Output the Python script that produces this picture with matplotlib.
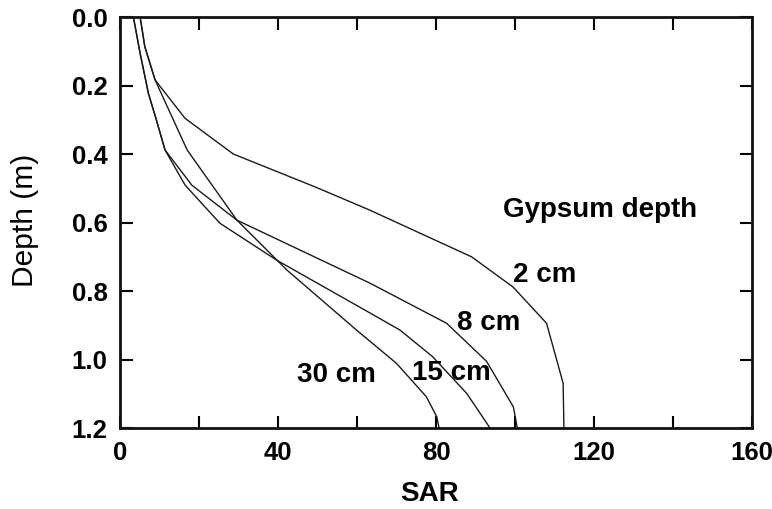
import matplotlib
matplotlib.use("Agg")
import matplotlib.pyplot as plt

plt.rcParams['font.family'] = ['Liberation Sans', 'DejaVu Sans']

# SAR vs depth profiles for each gypsum depth
sar_2cm = [5.1, 6.3, 8.9, 16.5, 28.7, 49.4, 63.3, 89.0, 99.5, 108.0, 112.2, 112.4]
dep_2cm = [0.0, 0.087, 0.184, 0.296, 0.40, 0.496, 0.564, 0.70, 0.788, 0.894, 1.069, 1.2]

sar_8cm = [3.4, 5.1, 7.2, 9.2, 11.4, 18.2, 29.6, 63.3, 82.7, 92.8, 99.6, 100.6]
dep_8cm = [0.0, 0.106, 0.223, 0.30, 0.388, 0.491, 0.593, 0.777, 0.894, 1.005, 1.138, 1.2]

sar_15cm = [3.4, 5.1, 7.2, 9.2, 11.4, 16.5, 25.3, 39.7, 63.3, 70.9, 79.2, 87.8, 93.7]
dep_15cm = [0.0, 0.106, 0.223, 0.30, 0.388, 0.491, 0.602, 0.71, 0.864, 0.914, 0.992, 1.099, 1.2]

sar_30cm = [5.1, 6.3, 8.9, 17.0, 29.6, 42.3, 59.9, 70.0, 77.6, 80.2, 80.8]
dep_30cm = [0.0, 0.087, 0.184, 0.388, 0.593, 0.739, 0.914, 1.011, 1.109, 1.167, 1.2]

xticks = [0, 20, 40, 60, 80, 100, 120, 140, 160]
xtick_labels = ['0', '', '40', '', '80', '', '120', '', '160']
yticks = [0.0, 0.2, 0.4, 0.6, 0.8, 1.0, 1.2]
ytick_labels = ['0.0', '0.2', '0.4', '0.6', '0.8', '1.0', '1.2']

fig = plt.figure(figsize=(7.72, 5.09), dpi=100)
ax = fig.add_axes([0.1554, 0.159, 0.8186, 0.8076])

for xs, ys in [(sar_2cm, dep_2cm), (sar_8cm, dep_8cm),
               (sar_15cm, dep_15cm), (sar_30cm, dep_30cm)]:
    ax.plot(xs, ys, color='#1a1a1a', lw=1.0)

ax.set_xlim(0, 160)
ax.set_ylim(1.2, 0.0)
ax.set_xticks(xticks)
ax.set_xticklabels(xtick_labels, fontsize=18.5, fontweight='bold')
ax.set_yticks(yticks)
ax.set_yticklabels(ytick_labels, fontsize=18.5, fontweight='bold')
ax.tick_params(direction='in', length=9, width=1.5, top=True, right=True)
ax.tick_params(axis='y', pad=9)
ax.tick_params(axis='x', pad=9.5)
for s in ax.spines.values():
    s.set_linewidth(2)
    s.set_color('#111111')

ax.set_xlabel('SAR', fontsize=20, fontweight='bold', va='center')
ax.xaxis.set_label_coords(0.489, -0.16)
ax.set_ylabel('Depth (m)', fontsize=21.5, va='center')
ax.yaxis.set_label_coords(-0.151, 0.506)

ax.text(97.0, 0.584, 'Gypsum depth', fontsize=20, fontweight='bold', va='baseline')
ax.text(99.5, 0.774, '2 cm', fontsize=20, fontweight='bold', va='baseline')
ax.text(85.3, 0.914, '8 cm', fontsize=20, fontweight='bold', va='baseline')
ax.text(73.9, 1.06, '15 cm', fontsize=20, fontweight='bold', va='baseline')
ax.text(44.8, 1.066, '30 cm', fontsize=20, fontweight='bold', va='baseline')

fig.savefig('out.png', dpi=100)
